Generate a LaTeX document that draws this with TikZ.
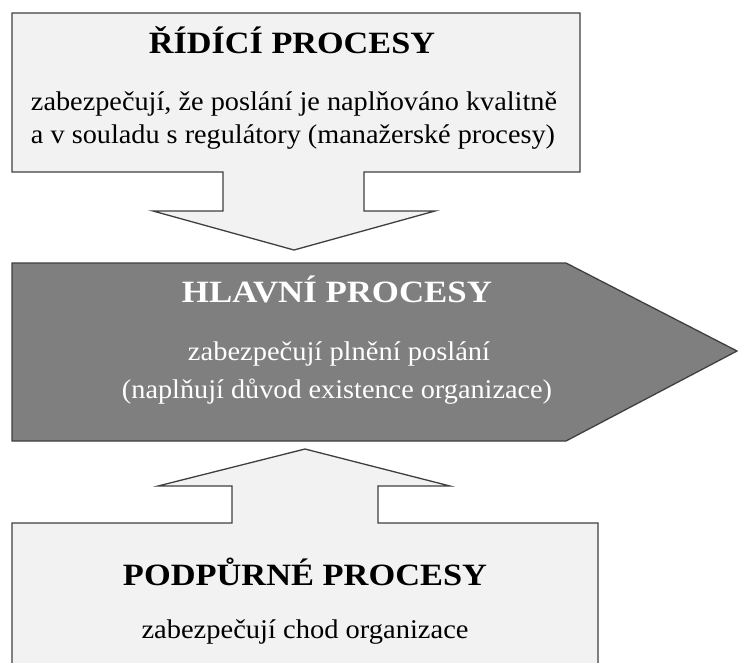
\documentclass[tikz,border=0pt]{standalone}
\usepackage{fontspec}
\setmainfont{Liberation Serif}
\usepackage{graphicx}
\definecolor{boxfill}{HTML}{F2F2F2}
\definecolor{mainfill}{HTML}{7F7F7F}
\definecolor{edge}{HTML}{3F3F3F}
\newcommand{\fitw}[2]{\resizebox{#1}{\height}{#2}}
\begin{document}
\begin{tikzpicture}[x=1pt,y=-1pt,
  outline/.style={draw=edge,line width=1.3pt,line join=miter},
  ttl/.style={anchor=base,inner sep=0pt,font=\fontsize{31}{33}\selectfont\bfseries},
  txt/.style={anchor=base,inner sep=0pt,font=\fontsize{27}{29}\selectfont}]
\useasboundingbox (0,0) rectangle (738,662);
\fill[white] (0,0) rectangle (738,662);
% top box with down arrow
\draw[outline,fill=boxfill] (12,13) -- (580,13) -- (580,172) -- (364,172) -- (364,211) -- (435,211) -- (294,250) -- (153,211) -- (223,211) -- (223,172) -- (12,172) -- cycle;
% main process pentagon
\draw[outline,fill=mainfill] (12,263) -- (566,263) -- (737,351) -- (566,441) -- (12,441) -- cycle;
% bottom box with up arrow
\fill[boxfill] (12,663) -- (12,523) -- (232,523) -- (232,486) -- (158,486) -- (305,449) -- (450,486) -- (378,486) -- (378,523) -- (598,523) -- (598,663) -- cycle;
\draw[outline] (12,664) -- (12,523) -- (232,523) -- (232,486) -- (158,486) -- (305,449) -- (450,486) -- (378,486) -- (378,523) -- (598,523) -- (598,664);
% texts
\node[ttl] (t1) at (292,53) {\fitw{286pt}{ŘÍDÍCÍ PROCESY}};
\node[txt] (t1a) at (294,110) {\fitw{526pt}{zabezpečují, že poslání je naplňováno kvalitně}};
\node[txt] (t1b) at (293,143) {\fitw{524pt}{a v souladu s regulátory (manažerské procesy)}};
\node[ttl,text=white] (t2) at (337,302) {\fitw{310pt}{HLAVNÍ PROCESY}};
\node[txt,text=white] (t2a) at (339,360) {\fitw{302pt}{zabezpečují plnění poslání}};
\node[txt,text=white] (t2b) at (337,398) {\fitw{430pt}{(naplňují důvod existence organizace)}};
\node[ttl] (t3) at (305,585) {\fitw{364pt}{PODPŮRNÉ PROCESY}};
\node[txt] (t3a) at (305,638) {\fitw{327pt}{zabezpečují chod organizace}};
\end{tikzpicture}
\end{document}
